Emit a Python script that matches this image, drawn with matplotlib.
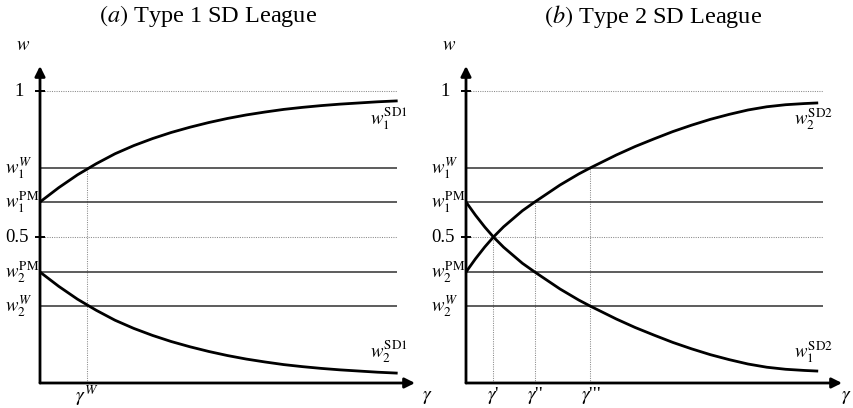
import matplotlib
matplotlib.use('Agg')
import matplotlib.pyplot as plt
from matplotlib.transforms import offset_copy

plt.rcParams['font.family'] = ['Liberation Serif', 'DejaVu Serif']
plt.rcParams['mathtext.fontset'] = 'stix'

# ---------------- data ----------------
# Panel (a): Type 1 SD League
gamma_a = [0, 0.5, 1.0, 1.5, 2.0, 2.5, 3.0, 3.5, 4.0, 4.5, 5.0, 5.5,
           6.0, 6.5, 7.0, 7.5, 8.0, 8.5, 9.0, 9.5]
w1_sd1 = [0.620, 0.669, 0.713, 0.751, 0.785, 0.813, 0.837, 0.858, 0.876,
          0.892, 0.906, 0.918, 0.928, 0.937, 0.944, 0.950, 0.955, 0.959,
          0.963, 0.966]
w2_sd1 = [0.380, 0.331, 0.287, 0.249, 0.215, 0.187, 0.163, 0.142, 0.124,
          0.108, 0.094, 0.082, 0.072, 0.063, 0.056, 0.050, 0.045, 0.041,
          0.037, 0.034]

# Panel (b): Type 2 SD League
gamma_b = [0, 0.25, 0.5, 0.73, 1.0, 1.5, 1.83, 2.5, 3.0, 3.31, 4.0, 4.5,
           5.0, 5.5, 6.0, 6.5, 7.0, 7.5, 8.0, 8.5, 9.0, 9.33]
w2_sd2 = [0.380, 0.425, 0.466, 0.500, 0.535, 0.590, 0.620, 0.678, 0.716,
          0.737, 0.781, 0.810, 0.836, 0.861, 0.883, 0.903, 0.920, 0.935,
          0.946, 0.953, 0.957, 0.959]
w1_sd2 = [0.620, 0.575, 0.534, 0.500, 0.465, 0.410, 0.380, 0.322, 0.284,
          0.263, 0.219, 0.190, 0.164, 0.139, 0.117, 0.097, 0.080, 0.065,
          0.054, 0.047, 0.043, 0.041]

# reference levels on the w axis
w_one = 1.0
w1_W = 0.736
w1_PM = 0.620
w_half = 0.5
w2_PM = 0.380
w2_W = 0.264

# marked gamma values
gamma_W = 1.25
gamma_b_marks = [0.73, 1.83, 3.31]
gamma_b_tops = [w_half, w1_PM, w1_W]
gamma_b_names = [r"$\gamma$'", r"$\gamma$''", r"$\gamma$'''"]

level_labels = [r'$w_1^{W}$', r'$w_1^{\mathrm{PM}}$', '0.5',
                r'$w_2^{\mathrm{PM}}$', r'$w_2^{W}$']
level_values = [w1_W, w1_PM, w_half, w2_PM, w2_W]
solid_levels = [w1_W, w1_PM, w2_PM, w2_W]
dotted_levels = [w_one, w_half]

# ---------------- figure ----------------
W, H = 854, 408
fig = plt.figure(figsize=(W / 100, H / 100), dpi=100)

AX_BOTTOM = 383
AX_TOP = 66
px_per_w = 292.0
LAB_FS = 13.5
DOT_STYLE = dict(color='#8a8a8a', lw=0.75, ls=(0, (1, 1.2)))


def make_axes(left_px, right_px):
    ax = fig.add_axes([left_px / W, (H - AX_BOTTOM) / H,
                       (right_px - left_px) / W, (AX_BOTTOM - AX_TOP) / H])
    ax.set_xlim(0, 10)
    ax.set_ylim(0, (AX_BOTTOM - AX_TOP) / px_per_w)
    for s in ax.spines.values():
        s.set_visible(False)
    ax.set_xticks([])
    ax.set_yticks([w_half, w_one])
    ax.set_yticklabels([])
    ax.tick_params(axis='y', direction='inout', length=7, width=1.4,
                   color='black')
    ax.patch.set_alpha(0)
    # axis arrows
    for xy in [(1, 0), (0, 1)]:
        ax.annotate('', xy=xy, xytext=(0, 0), xycoords='axes fraction',
                    arrowprops=dict(arrowstyle='-|>', lw=2.0, color='black',
                                    mutation_scale=15, shrinkA=0,
                                    shrinkB=0))
    return ax


def decorate(ax, line_end, gamma_dx):
    for lv in solid_levels:
        ax.plot([0, line_end], [lv, lv], color='#303030', lw=1.1,
                solid_capstyle='butt', zorder=2)
    for lv in dotted_levels:
        ax.plot([0, line_end], [lv, lv], zorder=1, **DOT_STYLE)
    tr = offset_copy(ax.get_yaxis_transform(), fig=fig, x=-35, y=0,
                     units='dots')
    for val, lab in zip(level_values, level_labels):
        ax.text(0, val, lab, transform=tr, ha='left', va='center',
                fontsize=LAB_FS)
    tr1 = offset_copy(ax.get_yaxis_transform(), fig=fig, x=-21, y=0,
                      units='dots')
    ax.text(0, w_one, '1', transform=tr1, ha='center', va='center',
            fontsize=LAB_FS)
    ax.text(0, 1, r'$w$', transform=offset_copy(ax.transAxes, fig=fig,
            x=-17, y=12, units='dots'), ha='center', va='bottom',
            fontsize=LAB_FS)
    ax.text(1, 0, r'$\gamma$', transform=offset_copy(ax.transAxes, fig=fig,
            x=gamma_dx, y=-14, units='dots'), ha='center', va='center',
            fontsize=14)


def gamma_label(ax, g, txt):
    tr = offset_copy(ax.get_xaxis_transform(), fig=fig, x=0, y=-13,
                     units='dots')
    ax.text(g, 0, txt, transform=tr, ha='center', va='center', fontsize=14)


# Panel (a)
axA = make_axes(40, 415)
decorate(axA, 9.52, 12)
axA.plot([gamma_W, gamma_W], [0, w1_W], zorder=1, **DOT_STYLE)
axA.plot(gamma_a, w1_sd1, color='black', lw=2.0, zorder=3)
axA.plot(gamma_a, w2_sd1, color='black', lw=2.0, zorder=3)
axA.text(9.3, 0.905, r'$w_1^{\mathrm{SD1}}$', ha='center', va='center',
         fontsize=LAB_FS)
axA.text(9.3, 0.106, r'$w_2^{\mathrm{SD1}}$', ha='center', va='center',
         fontsize=LAB_FS)
gamma_label(axA, gamma_W, r'$\gamma^{W}$')

# Panel (b)
axB = make_axes(466, 842)
decorate(axB, 9.49, 4)
for g, top, name in zip(gamma_b_marks, gamma_b_tops, gamma_b_names):
    axB.plot([g, g], [0, top], zorder=1, **DOT_STYLE)
    gamma_label(axB, g, name)
axB.plot(gamma_b, w2_sd2, color='black', lw=2.0, zorder=3)
axB.plot(gamma_b, w1_sd2, color='black', lw=2.0, zorder=3)
axB.text(9.23, 0.905, r'$w_2^{\mathrm{SD2}}$', ha='center', va='center',
         fontsize=LAB_FS)
axB.text(9.23, 0.106, r'$w_1^{\mathrm{SD2}}$', ha='center', va='center',
         fontsize=LAB_FS)

# titles
fig.text(208 / W, 1 - 16 / H, r'$\mathit{(a)}$ Type 1 SD League',
         ha='center', va='center', fontsize=17.5)
fig.text(653 / W, 1 - 16 / H, r'$\mathit{(b)}$ Type 2 SD League',
         ha='center', va='center', fontsize=17.5)

fig.savefig('out.png', dpi=100, facecolor='white')
